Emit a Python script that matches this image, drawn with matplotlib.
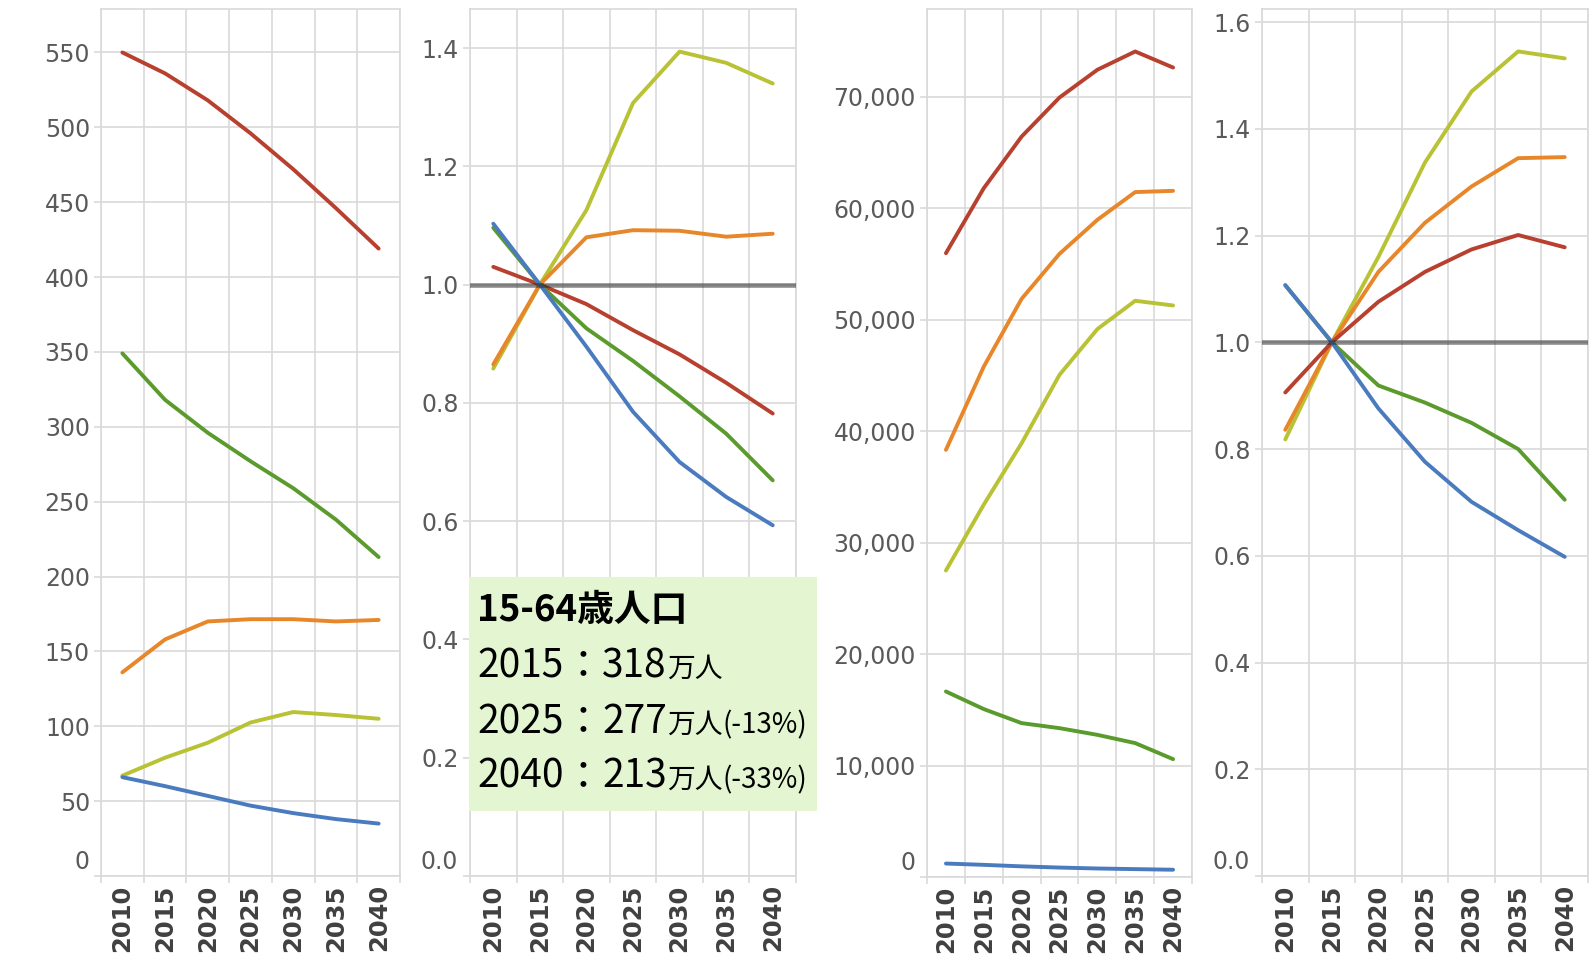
import matplotlib.pyplot as plt
from matplotlib.ticker import FuncFormatter, FixedLocator
from matplotlib.offsetbox import TextArea, HPacker, AnnotationBbox
from matplotlib.patches import Rectangle

plt.rcParams['font.family'] = ['DejaVu Sans']

years = ['2010', '2015', '2020', '2025', '2030', '2035', '2040']

# population, 10k people
pop_total = [550, 536, 518, 496, 472, 446, 419]
pop_1564 = [349, 318, 296, 277, 259, 238, 213]
pop_65 = [136, 158, 170, 171.5, 171.5, 170, 171]
pop_75 = [67, 79, 89, 102.5, 109.5, 107.5, 105]
pop_014 = [66, 60, 53.5, 47, 42, 38, 35]

# population, 2015 = 1.0
idx_total = [1.030, 1.0, 0.967, 0.923, 0.882, 0.834, 0.782]
idx_1564 = [1.096, 1.0, 0.926, 0.871, 0.811, 0.748, 0.669]
idx_65 = [0.865, 1.0, 1.080, 1.092, 1.091, 1.081, 1.086]
idx_75 = [0.858, 1.0, 1.126, 1.307, 1.394, 1.375, 1.340]
idx_014 = [1.103, 1.0, 0.895, 0.785, 0.700, 0.641, 0.593]

# demand side
dem_total = [55950, 61780, 66410, 69910, 72400, 74040, 72600]
dem_65 = [38310, 45780, 51860, 55890, 58940, 61430, 61540]
dem_75 = [27490, 33400, 38910, 45040, 49140, 51680, 51260]
dem_1564 = [16640, 15060, 13800, 13350, 12750, 12010, 10570]
dem_014 = [1207, 1090, 955, 846, 764, 706, 652]

# demand side, 2015 = 1.0
didx_total = [0.906, 1.0, 1.076, 1.132, 1.174, 1.201, 1.178]
didx_65 = [0.836, 1.0, 1.132, 1.224, 1.292, 1.345, 1.347]
didx_75 = [0.818, 1.0, 1.160, 1.337, 1.470, 1.545, 1.532]
didx_1564 = [1.107, 1.0, 0.919, 0.887, 0.849, 0.800, 0.705]
didx_014 = [1.107, 1.0, 0.876, 0.776, 0.701, 0.648, 0.598]

RED = '#b8402f'
GREEN = '#5b9a2d'
ORANGE = '#e8862a'
YELLOW = '#b8c234'
BLUE = '#4a7bbf'
GRID = '#d9d9d9'

W, H = 1595, 965
fig = plt.figure(figsize=(W / 100, H / 100), dpi=100)


def make_axes(left, right, top, bottom):
    return fig.add_axes([left / W, (H - bottom) / H, (right - left) / W, (bottom - top) / H])


def style(ax, ymax, yticks, fmt):
    x = list(range(len(years)))
    ax.set_xlim(-0.5, len(years) - 0.5)
    ax.set_ylim(0, ymax)
    ax.xaxis.set_major_locator(FixedLocator([i - 0.5 for i in range(len(years) + 1)]))
    ax.xaxis.set_minor_locator(FixedLocator(x))
    ax.xaxis.set_major_formatter(FuncFormatter(lambda v, p: ''))
    ax.xaxis.set_minor_formatter(FuncFormatter(lambda v, p: years[int(round(v))]))
    ax.tick_params(axis='x', which='major', length=5, width=1.2, color=GRID)
    ax.tick_params(axis='x', which='minor', length=0, pad=6, labelsize=17.5,
                   labelcolor='#404040', labelrotation=90)
    for lab in ax.get_xticklabels(minor=True):
        lab.set_fontweight('bold')
    ax.set_yticks(yticks)
    ax.yaxis.set_major_formatter(FuncFormatter(lambda v, p: '' if v == 0 else fmt(v)))
    ax.tick_params(axis='y', length=5, width=1.2, color=GRID, pad=3,
                   labelsize=17, labelcolor='#5a5a5a')
    ax.grid(True, which='major', color=GRID, lw=1.2)
    ax.set_axisbelow(True)
    for s in ax.spines.values():
        s.set_color(GRID)
        s.set_linewidth(1.2)
    # bottom label sits above the axis line
    ax.annotate(fmt(0), xy=(0, 0), xycoords='axes fraction', xytext=(-12, 14),
                textcoords='offset pixels', ha='right', va='center',
                fontsize=17, color='#5a5a5a')


def draw(ax, series, ref_line=False):
    x = list(range(len(years)))
    for vals, c in series:
        ax.plot(x, vals, color=c, lw=2.8, solid_capstyle='round', zorder=3)
    if ref_line:
        ax.axhline(1.0, color='#1a1a1a', alpha=0.5, lw=3.3, zorder=4)


ax1 = make_axes(101, 400, 9, 876)
draw(ax1, [(pop_total, RED), (pop_65, ORANGE), (pop_75, YELLOW), (pop_1564, GREEN), (pop_014, BLUE)])
style(ax1, 579, list(range(0, 551, 50)), lambda v: f'{v:.0f}')

ax2 = make_axes(470, 796, 9, 876)
draw(ax2, [(idx_75, YELLOW), (idx_65, ORANGE), (idx_total, RED), (idx_1564, GREEN), (idx_014, BLUE)], True)
style(ax2, 1.466, [0, 0.2, 0.4, 0.6, 0.8, 1.0, 1.2, 1.4], lambda v: f'{v:.1f}')

ax3 = make_axes(927, 1192, 9, 877)
draw(ax3, [(dem_total, RED), (dem_65, ORANGE), (dem_75, YELLOW), (dem_1564, GREEN), (dem_014, BLUE)])
style(ax3, 77850, list(range(0, 70001, 10000)), lambda v: f'{v:,.0f}')

ax4 = make_axes(1262, 1588, 9, 876)
draw(ax4, [(didx_75, YELLOW), (didx_65, ORANGE), (didx_total, RED), (didx_1564, GREEN), (didx_014, BLUE)], True)
style(ax4, 1.6245, [0, 0.2, 0.4, 0.6, 0.8, 1.0, 1.2, 1.4, 1.6], lambda v: f'{v:.1f}')

# note box for the working-age population
box = Rectangle((469 / W, (H - 811) / H), 348 / W, 234 / H, transform=fig.transFigure,
                facecolor='#e3f6d1', edgecolor='none', zorder=5)
fig.add_artist(box)

CJK = ['Noto Sans CJK JP', 'DejaVu Sans']
big = dict(family=CJK, size=28, weight='normal', color='black')
small = dict(family=CJK, size=20, weight='normal', color='black')
note_lines = [
    ([('15-64歳人口', dict(family=CJK, size=26.5, weight='bold', color='black'))], 610),
    ([('2015', big), ('：', big), ('318', big), ('万人', small)], 666),
    ([('2025', big), ('：', big), ('277', big), ('万人', small), ('(-13%)', small)], 722),
    ([('2040', big), ('：', big), ('213', big), ('万人', small), ('(-33%)', small)], 777),
]
for parts, yc in note_lines:
    pack = HPacker(children=[TextArea(t, textprops=p) for t, p in parts],
                   align='baseline', pad=0, sep=0)
    ab = AnnotationBbox(pack, (477, H - yc), xycoords='figure pixels',
                        box_alignment=(0, 0.5), frameon=False, pad=0, zorder=6)
    fig.add_artist(ab)

fig.savefig('out.png', dpi=100)
